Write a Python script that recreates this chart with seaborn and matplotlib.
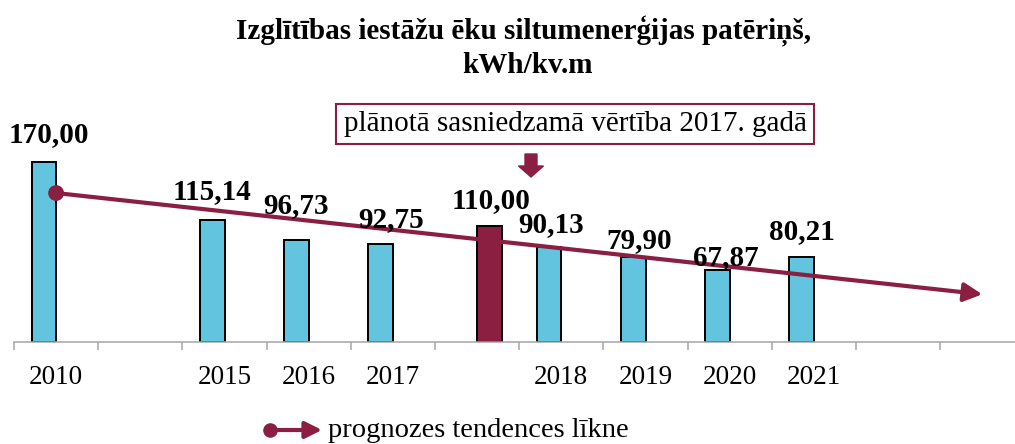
import numpy as np
import pandas as pd
import matplotlib
matplotlib.use('Agg')
import matplotlib.pyplot as plt
import seaborn as sns
from matplotlib.patches import FancyArrow, FancyArrowPatch
from matplotlib.lines import Line2D

# ---------------- data ----------------
categories = ['2010', 'gap1', '2015', '2016', '2017', 'plan', '2018', '2019', '2020', '2021', 'gap2', 'gap3']
tick_labels = ['2010', '', '2015', '2016', '2017', '', '2018', '2019', '2020', '2021', '', '']
actual_years = ['2010', '2015', '2016', '2017', '2018', '2019', '2020', '2021']
actual_values = [170.00, 115.14, 96.73, 92.75, 90.13, 79.90, 67.87, 80.21]
planned_category = ['plan']
planned_values = [110.00]
trend_x = [0, 11]
trend_y = [141.0, 44.8]

title_line1 = 'Izglītības iestāžu ēku siltumenerģijas patēriņš,'
title_line2 = 'kWh/kv.m'
note = 'plānotā sasniedzamā vērtība 2017. gadā'
legend_label = 'prognozes tendences līkne'

# ---------------- style ----------------
CYAN = '#63C4DF'
MAROON = '#8B1F41'
AXIS_GREY = '#A6A6A6'
W, H = 1015, 444
PX = 0.72  # points per pixel at dpi 100

# per-label offsets (pixels) of the value labels above the bar tops
label_dy_actual = [20, 21, 27, 17, 15, 9, 5, 18]
label_dx_actual = [5, 0, 0, 10, 2, 6, 8, 0]
label_dy_planned = [18]
label_dx_planned = [2]

sns.set_theme(style='white')
plt.rcParams['font.family'] = ['Liberation Serif', 'DejaVu Serif']
plt.rcParams['text.color'] = 'black'
plt.rcParams['xtick.labelcolor'] = 'black'

df = pd.DataFrame({
    'category': actual_years + planned_category,
    'value': actual_values + planned_values,
    'series': ['actual'] * len(actual_years) + ['planned'] * len(planned_values),
})

fig = plt.figure(figsize=(W / 100, H / 100), dpi=100)
slot_px = 84.2
unit_px = 1.053
ax = fig.add_axes([14 / W, (H - 341.5) / H, 1001 / W, 200 * unit_px / H])

sns.barplot(data=df, x='category', y='value', hue='series', order=categories,
            hue_order=['actual', 'planned'],
            palette={'actual': CYAN, 'planned': MAROON}, saturation=1,
            width=0.58, dodge=True, edgecolor='black', linewidth=1.4,
            legend=False, ax=ax, zorder=2)

ax.set_xlim(-0.5, -0.5 + 1001 / slot_px)
ax.set_ylim(0, 200)
ax.set_xlabel('')
ax.set_ylabel('')
ax.set_yticks([])
for s in ['top', 'left', 'right']:
    ax.spines[s].set_visible(False)
ax.spines['bottom'].set_color(AXIS_GREY)
ax.spines['bottom'].set_linewidth(1.1)

ax.set_xticks(np.arange(-0.5, 11, 1))
ax.set_xticklabels([])
ax.set_xticks(np.arange(len(categories)), minor=True)
ax.set_xticklabels(tick_labels, minor=True)
ax.tick_params(axis='x', which='major', length=5.8, width=1.1, color=AXIS_GREY, direction='out', bottom=True)
ax.tick_params(axis='x', which='minor', length=0, pad=17, labelsize=19.5, labelcolor='black')

# value labels
for cont, dys, dxs in zip(ax.containers, [label_dy_actual, label_dy_planned],
                          [label_dx_actual, label_dx_planned]):
    bars = [b for b in cont if np.isfinite(b.get_height()) and b.get_height() > 0]
    for b, dy, dx in zip(bars, dys, dxs):
        v = b.get_height()
        ax.annotate(f'{v:.2f}'.replace('.', ','), (b.get_x() + b.get_width() / 2, v),
                    xytext=(dx * PX, dy * PX), textcoords='offset points',
                    ha='center', va='baseline', fontsize=21, fontweight='bold',
                    color='black', annotation_clip=False, zorder=4)

# trend line with arrow head
ax.annotate('', xy=(trend_x[1], trend_y[1]), xytext=(trend_x[0], trend_y[0]),
            arrowprops=dict(arrowstyle='-|>,head_length=0.55,head_width=0.28', mutation_scale=20,
                            lw=3, color=MAROON, shrinkA=0, shrinkB=0),
            annotation_clip=False, zorder=3)
sns.scatterplot(x=trend_x[:1], y=trend_y[:1], s=130, color=MAROON, edgecolor='none',
                ax=ax, zorder=5, legend=False)

# title
fig.text(524 / W, 1 - 39 / H, title_line1, ha='center', va='baseline', fontsize=21, fontweight='bold')
fig.text(527 / W, 1 - 73 / H, title_line2, ha='center', va='baseline', fontsize=21, fontweight='bold')

# note box and arrow
fig.text(575 / W, 1 - 124 / H, note, ha='center', va='center', fontsize=21,
         bbox=dict(boxstyle='square,pad=0.25', fc='white', ec=MAROON, lw=1.5))
fig.add_artist(FancyArrow(531 / W, 1 - 154 / H, 0, -23 / H, width=12 / W, head_width=25 / W,
                          head_length=11 / H, length_includes_head=True, color=MAROON,
                          transform=fig.transFigure))

# legend
fig.add_artist(FancyArrowPatch((270 / W, 1 - 430 / H), (322 / W, 1 - 430 / H), transform=fig.transFigure,
                               arrowstyle='-|>,head_length=0.5,head_width=0.25', mutation_scale=20,
                               lw=3, color=MAROON, shrinkA=0, shrinkB=0))
fig.add_artist(Line2D([270 / W], [1 - 430 / H], transform=fig.transFigure, marker='o',
                      markersize=10.5, color=MAROON, mec='none', linestyle='none'))
fig.text(328 / W, 1 - 437 / H, legend_label, ha='left', va='baseline', fontsize=20.5)

fig.savefig('out.png', dpi=100)
